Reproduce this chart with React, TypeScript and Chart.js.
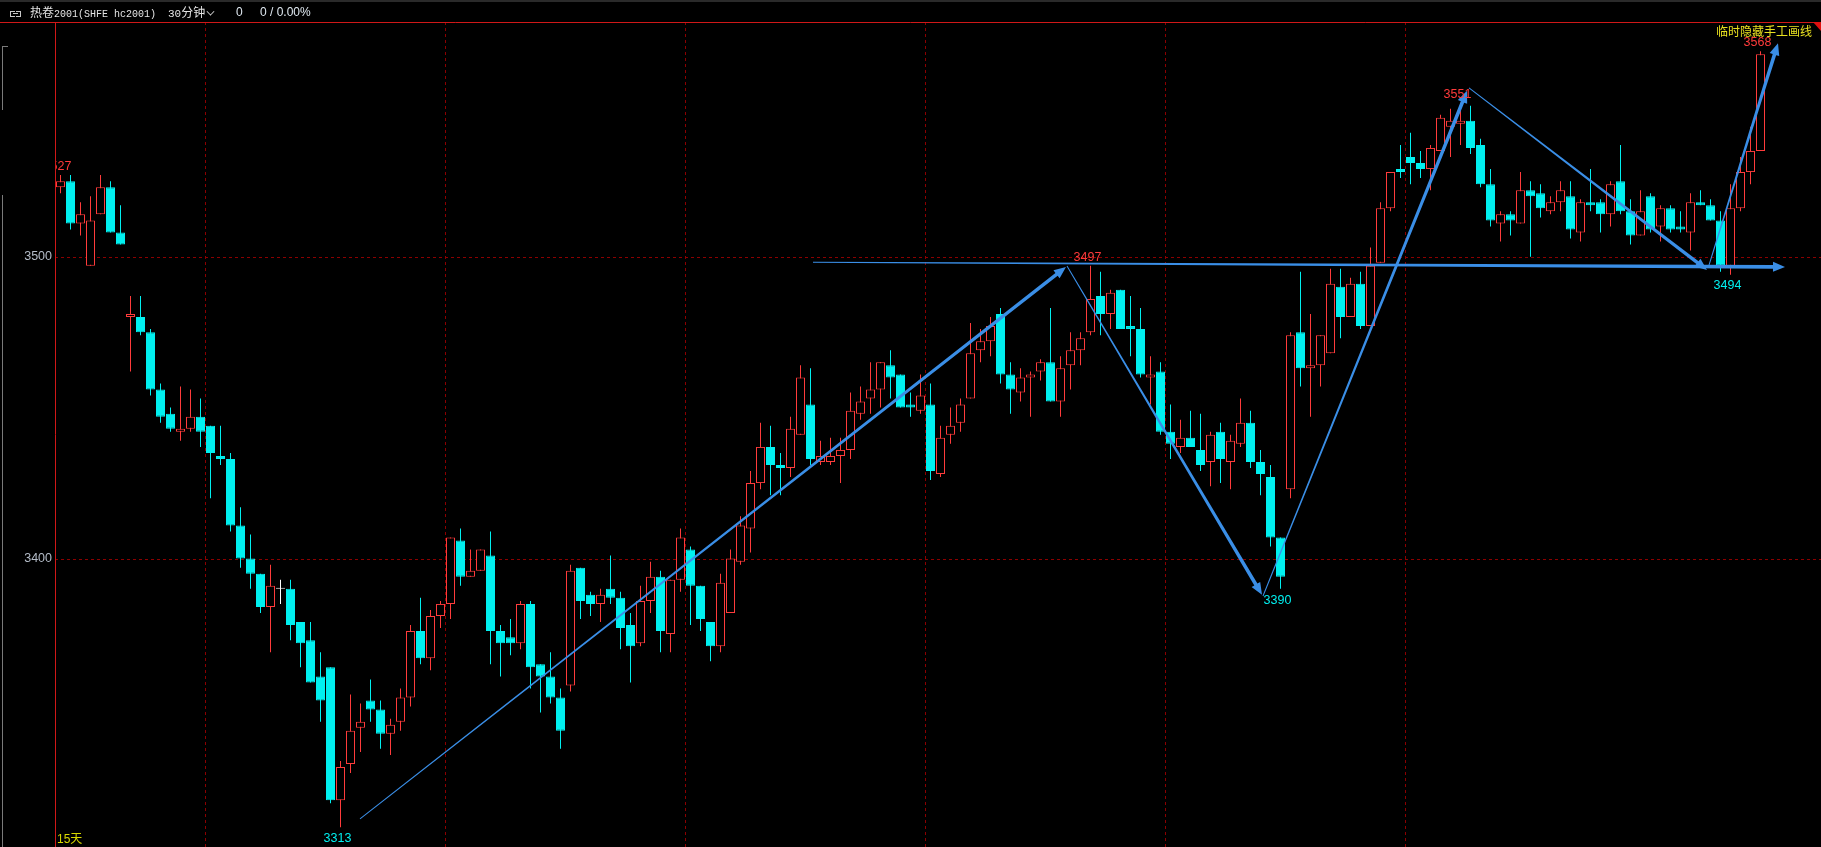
import React, { useEffect, useRef } from 'react';
import { Chart, registerables } from 'chart.js';

Chart.register(...registerables);

// ---- OHLC data (30-minute bars, hc2001) ----
const opens = [
  3523, 3525, 3511, 3497, 3514, 3523, 3508, 3480, 3480, 3475,
  3456, 3448, 3442, 3443, 3447, 3444, 3434, 3433, 3411, 3400,
  3395, 3384, 3390, 3390, 3379, 3373, 3361, 3364, 3320, 3332,
  3344, 3353, 3350, 3342, 3346, 3354, 3376, 3367, 3381, 3385,
  3406, 3394, 3396, 3401, 3376, 3374, 3372, 3385, 3365, 3361,
  3354, 3358, 3397, 3388, 3385, 3390, 3387, 3378, 3372, 3386,
  3394, 3375, 3393, 3403, 3391, 3379, 3371, 3382, 3399, 3410,
  3425, 3437, 3431, 3430, 3441, 3451, 3432, 3432, 3434, 3436,
  3448, 3453, 3456, 3464, 3461, 3451, 3449, 3451, 3428, 3441,
  3445, 3453, 3469, 3472, 3481, 3461, 3455, 3460, 3462, 3465,
  3452, 3464, 3469, 3475, 3487, 3481, 3489, 3477, 3476, 3460,
  3462, 3442, 3437, 3440, 3436, 3432, 3442, 3432, 3438, 3445,
  3432, 3427, 3407, 3423, 3475, 3463, 3464, 3468, 3490, 3480,
  3491, 3477, 3498, 3516, 3529, 3533, 3531, 3529, 3535, 3543,
  3544, 3545, 3537, 3524, 3511, 3514, 3511, 3522, 3521, 3515,
  3518, 3520, 3508, 3518, 3518, 3514, 3525, 3515, 3507, 3520,
  3510, 3516, 3510, 3508, 3518, 3517, 3512, 3497, 3516, 3528,
  3535,
];
const highs = [
  3527, 3527, 3518, 3520, 3527, 3525, 3517, 3487, 3487, 3476,
  3458, 3450, 3457, 3456, 3453, 3444, 3444, 3435, 3417, 3408,
  3395, 3398, 3393, 3393, 3379, 3379, 3369, 3364, 3333, 3355,
  3352, 3360, 3353, 3347, 3357, 3378, 3387, 3383, 3386, 3407,
  3410, 3403, 3403, 3409, 3378, 3380, 3386, 3386, 3365, 3369,
  3357, 3398, 3397, 3389, 3390, 3401, 3389, 3382, 3391, 3399,
  3396, 3393, 3410, 3404, 3391, 3379, 3395, 3403, 3414, 3429,
  3445, 3444, 3435, 3447, 3464, 3463, 3439, 3440, 3440, 3455,
  3457, 3465, 3465, 3469, 3461, 3455, 3461, 3458, 3444, 3450,
  3453, 3478, 3476, 3480, 3483, 3465, 3463, 3462, 3466, 3483,
  3467, 3475, 3475, 3497, 3495, 3489, 3489, 3487, 3483, 3467,
  3465, 3451, 3446, 3449, 3448, 3442, 3445, 3441, 3453, 3449,
  3436, 3431, 3407, 3475, 3495, 3481, 3474, 3496, 3496, 3493,
  3495, 3503, 3518, 3528, 3537, 3541, 3535, 3537, 3547, 3549,
  3551, 3550, 3539, 3529, 3515, 3515, 3528, 3525, 3524, 3520,
  3525, 3525, 3519, 3529, 3519, 3525, 3537, 3519, 3522, 3521,
  3517, 3517, 3515, 3521, 3522, 3519, 3515, 3524, 3533, 3543,
  3568,
];
const lows = [
  3521, 3509, 3507, 3497, 3514, 3508, 3504, 3462, 3474, 3454,
  3445, 3442, 3439, 3442, 3437, 3420, 3431, 3409, 3397, 3390,
  3382, 3369, 3385, 3373, 3364, 3359, 3346, 3319, 3311, 3329,
  3336, 3346, 3337, 3335, 3343, 3351, 3365, 3363, 3377, 3380,
  3391, 3394, 3396, 3365, 3361, 3368, 3370, 3357, 3349, 3352,
  3337, 3356, 3380, 3381, 3379, 3385, 3370, 3359, 3371, 3382,
  3369, 3369, 3389, 3378, 3376, 3366, 3369, 3382, 3398, 3402,
  3423, 3421, 3421, 3427, 3441, 3431, 3431, 3431, 3425, 3433,
  3446, 3448, 3450, 3453, 3450, 3447, 3448, 3426, 3427, 3438,
  3442, 3453, 3465, 3467, 3458, 3448, 3452, 3447, 3459, 3452,
  3447, 3456, 3464, 3474, 3474, 3476, 3476, 3467, 3460, 3451,
  3441, 3433, 3435, 3437, 3429, 3424, 3425, 3423, 3437, 3430,
  3421, 3404, 3390, 3420, 3457, 3447, 3457, 3468, 3473, 3480,
  3476, 3477, 3498, 3515, 3526, 3524, 3526, 3522, 3535, 3533,
  3537, 3534, 3523, 3510, 3505, 3507, 3511, 3500, 3513, 3514,
  3515, 3506, 3505, 3515, 3508, 3510, 3514, 3504, 3507, 3508,
  3505, 3508, 3508, 3502, 3517, 3512, 3495, 3494, 3515, 3524,
  3535,
];
const closes = [
  3525, 3511, 3514, 3512, 3523, 3508, 3504, 3481, 3475, 3456,
  3447, 3443, 3443, 3447, 3442, 3435, 3433, 3411, 3400, 3395,
  3384, 3391, 3390, 3378, 3372, 3359, 3353, 3320, 3331, 3343,
  3346, 3350, 3342, 3345, 3354, 3376, 3367, 3381, 3385, 3407,
  3394, 3396, 3403, 3376, 3372, 3372, 3385, 3364, 3361, 3354,
  3343, 3396, 3386, 3385, 3388, 3387, 3377, 3371, 3386, 3394,
  3376, 3393, 3407, 3391, 3380, 3371, 3392, 3400, 3411, 3425,
  3437, 3431, 3430, 3443, 3460, 3433, 3434, 3434, 3436, 3449,
  3452, 3456, 3465, 3460, 3450, 3450, 3454, 3429, 3440, 3444,
  3451, 3468, 3472, 3477, 3461, 3456, 3460, 3461, 3465, 3452,
  3463, 3469, 3473, 3486, 3481, 3488, 3476, 3476, 3461, 3461,
  3442, 3438, 3440, 3437, 3431, 3441, 3433, 3439, 3445, 3432,
  3428, 3407, 3394, 3474, 3463, 3464, 3474, 3491, 3480, 3491,
  3477, 3497, 3516, 3528, 3528, 3531, 3529, 3536, 3546, 3545,
  3545, 3536, 3524, 3512, 3514, 3512, 3522, 3520, 3516, 3518,
  3522, 3509, 3518, 3517, 3514, 3524, 3515, 3507, 3515, 3509,
  3516, 3509, 3509, 3518, 3517, 3512, 3497, 3516, 3528, 3535,
  3567,
];

// ---- axes / guides ----
const yTickValues = [3400, 3500];
const vGridIdx = [14.5, 38.5, 62.5, 86.5, 110.5, 134.5];

// marked extremes: candle index, kind (H = high, L = low) and the text shown
const markIdx = [0, 28, 103, 122, 140, 167, 170];
const markKind = ['H', 'L', 'H', 'L', 'H', 'L', 'H'];
const markText = ['3527', '3313', '3497', '3390', '3551', '3494', '3568'];

// hand-drawn trend arrows (bar index, price)
const trendFromX = [29.95, 100.65, 120.25, 140.85, 164.85, 75.25];
const trendFromY = [3313.8, 3496.9, 3387.6, 3555.9, 3497.2, 3498.1];
const trendToX = [100.55, 120.15, 140.65, 164.65, 171.75, 172.45];
const trendToY = [3496.6, 3388.0, 3554.9, 3495.6, 3570.7, 3496.6];

const RED = '#ff3b3b';
const CYAN = '#00f0f0';
const WHITE = '#ffffff';
const BLUE = '#3a8ee6';

function candleStroke(i: number) {
  if (closes[i] > opens[i]) return RED;
  if (closes[i] < opens[i]) return CYAN;
  return WHITE;
}
function candleFill(i: number) {
  if (closes[i] > opens[i]) return '#000000';
  return candleStroke(i);
}

function drawArrow(ctx: CanvasRenderingContext2D, x0: number, y0: number, x1: number, y1: number) {
  const w0 = 1, w1 = 3.6, headLen = 12, headHalf = 5;
  const dx = x1 - x0, dy = y1 - y0;
  const len = Math.hypot(dx, dy);
  const ux = dx / len, uy = dy / len;
  const nx = -uy, ny = ux;
  const bx = x1 - ux * headLen, by = y1 - uy * headLen;
  ctx.beginPath();
  ctx.moveTo(x0 + nx * w0 / 2, y0 + ny * w0 / 2);
  ctx.lineTo(bx + nx * w1 / 2, by + ny * w1 / 2);
  ctx.lineTo(bx + nx * headHalf, by + ny * headHalf);
  ctx.lineTo(x1, y1);
  ctx.lineTo(bx - nx * headHalf, by - ny * headHalf);
  ctx.lineTo(bx - nx * w1 / 2, by - ny * w1 / 2);
  ctx.lineTo(x0 - nx * w0 / 2, y0 - ny * w0 / 2);
  ctx.closePath();
  ctx.fill();
}

const bgPlugin = {
  id: 'bgFill',
  beforeDraw(chart: any) {
    const ctx = chart.ctx;
    ctx.save();
    ctx.fillStyle = '#000';
    ctx.fillRect(0, 0, chart.width, chart.height);
    ctx.restore();
  },
};

const gridPlugin = {
  id: 'dashGrid',
  beforeDatasetsDraw(chart: any) {
    const { ctx, chartArea: a, scales } = chart;
    const x = scales.x, y = scales.y;
    ctx.save();
    ctx.strokeStyle = '#8c0000';
    ctx.lineWidth = 1;
    ctx.setLineDash([3, 3]);
    yTickValues.forEach((v) => {
      const py = Math.round(y.getPixelForValue(v)) + 0.5;
      ctx.beginPath();
      ctx.moveTo(a.left, py);
      ctx.lineTo(a.right, py);
      ctx.stroke();
    });
    vGridIdx.forEach((v) => {
      const px = Math.floor(x.getPixelForValue(v)) + 0.5;
      ctx.beginPath();
      ctx.moveTo(px, a.top);
      ctx.lineTo(px, a.bottom);
      ctx.stroke();
    });
    ctx.setLineDash([]);
    // y labels
    ctx.fillStyle = '#b4bcc8';
    ctx.font = '12.5px "Liberation Sans", Arial, sans-serif';
    ctx.textAlign = 'right';
    ctx.textBaseline = 'middle';
    yTickValues.forEach((v) => {
      ctx.fillText(String(v), a.left - 3, y.getPixelForValue(v));
    });
    ctx.restore();
  },
};

const overlayPlugin = {
  id: 'overlay',
  afterDatasetsDraw(chart: any) {
    const { ctx, chartArea: a, scales } = chart;
    const x = scales.x, y = scales.y;
    ctx.save();
    // axis lines
    ctx.strokeStyle = '#d01818';
    ctx.lineWidth = 1;
    ctx.beginPath();
    ctx.moveTo(Math.floor(a.left) + 0.5, a.top);
    ctx.lineTo(Math.floor(a.left) + 0.5, a.bottom);
    ctx.stroke();
    ctx.beginPath();
    ctx.moveTo(0, Math.floor(a.top) + 0.5);
    ctx.lineTo(chart.width, Math.floor(a.top) + 0.5);
    ctx.stroke();
    // corner triangle
    ctx.fillStyle = '#e01010';
    ctx.beginPath();
    ctx.moveTo(chart.width - 8, a.top);
    ctx.lineTo(chart.width, a.top);
    ctx.lineTo(chart.width, a.top + 9);
    ctx.closePath();
    ctx.fill();

    // clip to chart area
    ctx.beginPath();
    ctx.rect(a.left + 1, a.top + 1, a.right - a.left, a.bottom - a.top);
    ctx.clip();

    // trend arrows
    ctx.fillStyle = BLUE;
    for (let k = 0; k < trendFromX.length; k++) {
      drawArrow(
        ctx,
        x.getPixelForValue(trendFromX[k]), y.getPixelForValue(trendFromY[k]),
        x.getPixelForValue(trendToX[k]), y.getPixelForValue(trendToY[k])
      );
    }

    // extreme labels
    ctx.font = '12.5px "Liberation Sans", Arial, sans-serif';
    ctx.textAlign = 'center';
    markIdx.forEach((i, k) => {
      const px = x.getPixelForValue(i);
      if (markKind[k] === 'H') {
        ctx.fillStyle = RED;
        ctx.textBaseline = 'bottom';
        ctx.fillText(markText[k], px - 3, y.getPixelForValue(highs[i]) - 2);
      } else {
        ctx.fillStyle = CYAN;
        ctx.textBaseline = 'top';
        ctx.fillText(markText[k], px - 3, y.getPixelForValue(lows[i]) + 5);
      }
    });
    ctx.restore();
  },
};

export default function App() {
  const ref = useRef<HTMLCanvasElement | null>(null);

  useEffect(() => {
    document.body.style.margin = '0';
    document.body.style.background = '#000';
    const canvas = ref.current;
    if (!canvas) return;
    const chart = new Chart(canvas, {
      type: 'bar',
      data: {
        datasets: [
          {
            label: 'body',
            order: 0,
            data: opens.map((o, i) => ({ x: i, y: [o, closes[i]] })) as any,
            backgroundColor: opens.map((_, i) => candleFill(i)),
            borderColor: opens.map((_, i) => candleStroke(i)),
            borderWidth: 1,
            borderSkipped: false,
            barThickness: 9,
            grouped: false,
            minBarLength: 1,
            inflateAmount: 0,
          } as any,
          {
            label: 'wick',
            order: 1,
            data: lows.map((l, i) => ({ x: i, y: [l, highs[i]] })) as any,
            backgroundColor: lows.map((_, i) => candleStroke(i)),
            borderWidth: 0,
            barThickness: 1,
            grouped: false,
            inflateAmount: 0,
          } as any,
        ],
      },
      options: {
        responsive: false,
        animation: false,
        devicePixelRatio: 1,
        events: [],
        layout: { padding: { top: 22, left: 55, right: 0, bottom: 0 } },
        plugins: { legend: { display: false }, tooltip: { enabled: false } },
        scales: {
          x: { type: 'linear', min: -0.55, max: -0.55 + 176.6, offset: false, display: false },
          y: { type: 'linear', min: 3304.5, max: 3577.7, display: false },
        },
      } as any,
      plugins: [bgPlugin, gridPlugin, overlayPlugin],
    });
    return () => chart.destroy();
  }, []);

  const hdr: React.CSSProperties = {
    position: 'absolute',
    top: 5,
    fontSize: 10,
    lineHeight: '14px',
    fontFamily: '"Liberation Mono", "Noto Sans CJK SC", monospace',
    whiteSpace: 'pre',
    color: '#e4e4e4',
  };
  const cjk: React.CSSProperties = { fontFamily: '"Noto Sans CJK SC"', fontSize: 12 };

  return (
    <div style={{ position: 'relative', width: 1821, height: 847, background: '#000', overflow: 'hidden' }}>
      <canvas ref={ref} width={1821} height={847} style={{ position: 'absolute', left: 0, top: 0, width: 1821, height: 847 }} />
      <div style={{ position: 'absolute', left: 0, top: 0, width: 1821, height: 2, background: '#2a2a2a' }} />
      <div style={{ position: 'absolute', left: 10, top: 11, width: 4, height: 4, border: '1px solid #c8c8c8', borderRight: 'none' }} />
      <div style={{ position: 'absolute', left: 16, top: 11, width: 4, height: 4, border: '1px solid #c8c8c8', borderLeft: 'none' }} />
      <div style={{ position: 'absolute', left: 13, top: 13, width: 5, height: 1, background: '#c8c8c8' }} />
      <div style={{ ...hdr, left: 30 }}>
        <span style={cjk}>热卷</span>2001(SHFE hc2001)
      </div>
      <div style={{ ...hdr, left: 168, fontSize: 11 }}>
        30<span style={cjk}>分钟</span>
      </div>
      <div style={{ position: 'absolute', left: 207, top: 8, width: 6, height: 6, borderRight: '1.5px solid #e4e4e4', borderBottom: '1.5px solid #e4e4e4', transform: 'rotate(45deg) scale(0.8)' }} />
      <div style={{ ...hdr, left: 236, color: '#dfe8f0', fontFamily: '"Liberation Sans", Arial, sans-serif', fontSize: 12 }}>0</div>
      <div style={{ ...hdr, left: 260, color: '#dfe8f0', fontFamily: '"Liberation Sans", Arial, sans-serif', fontSize: 12 }}>0 / 0.00%</div>
      <div style={{ position: 'absolute', left: 1716, top: 24, fontSize: 12, lineHeight: '14px', fontFamily: '"Noto Sans CJK SC", sans-serif', color: '#e8e020' }}>临时隐藏手工画线</div>
      <div style={{ position: 'absolute', left: 57, top: 832, fontSize: 12, lineHeight: '14px', fontFamily: '"Liberation Sans", "Noto Sans CJK SC", sans-serif', color: '#d8d800' }}>15天</div>
      <div style={{ position: 'absolute', left: 2, top: 46, width: 1, height: 64, background: '#7a7a7a' }} />
      <div style={{ position: 'absolute', left: 2, top: 46, width: 6, height: 1, background: '#7a7a7a' }} />
      <div style={{ position: 'absolute', left: 2, top: 195, width: 1, height: 652, background: '#7a7a7a' }} />
    </div>
  );
}
